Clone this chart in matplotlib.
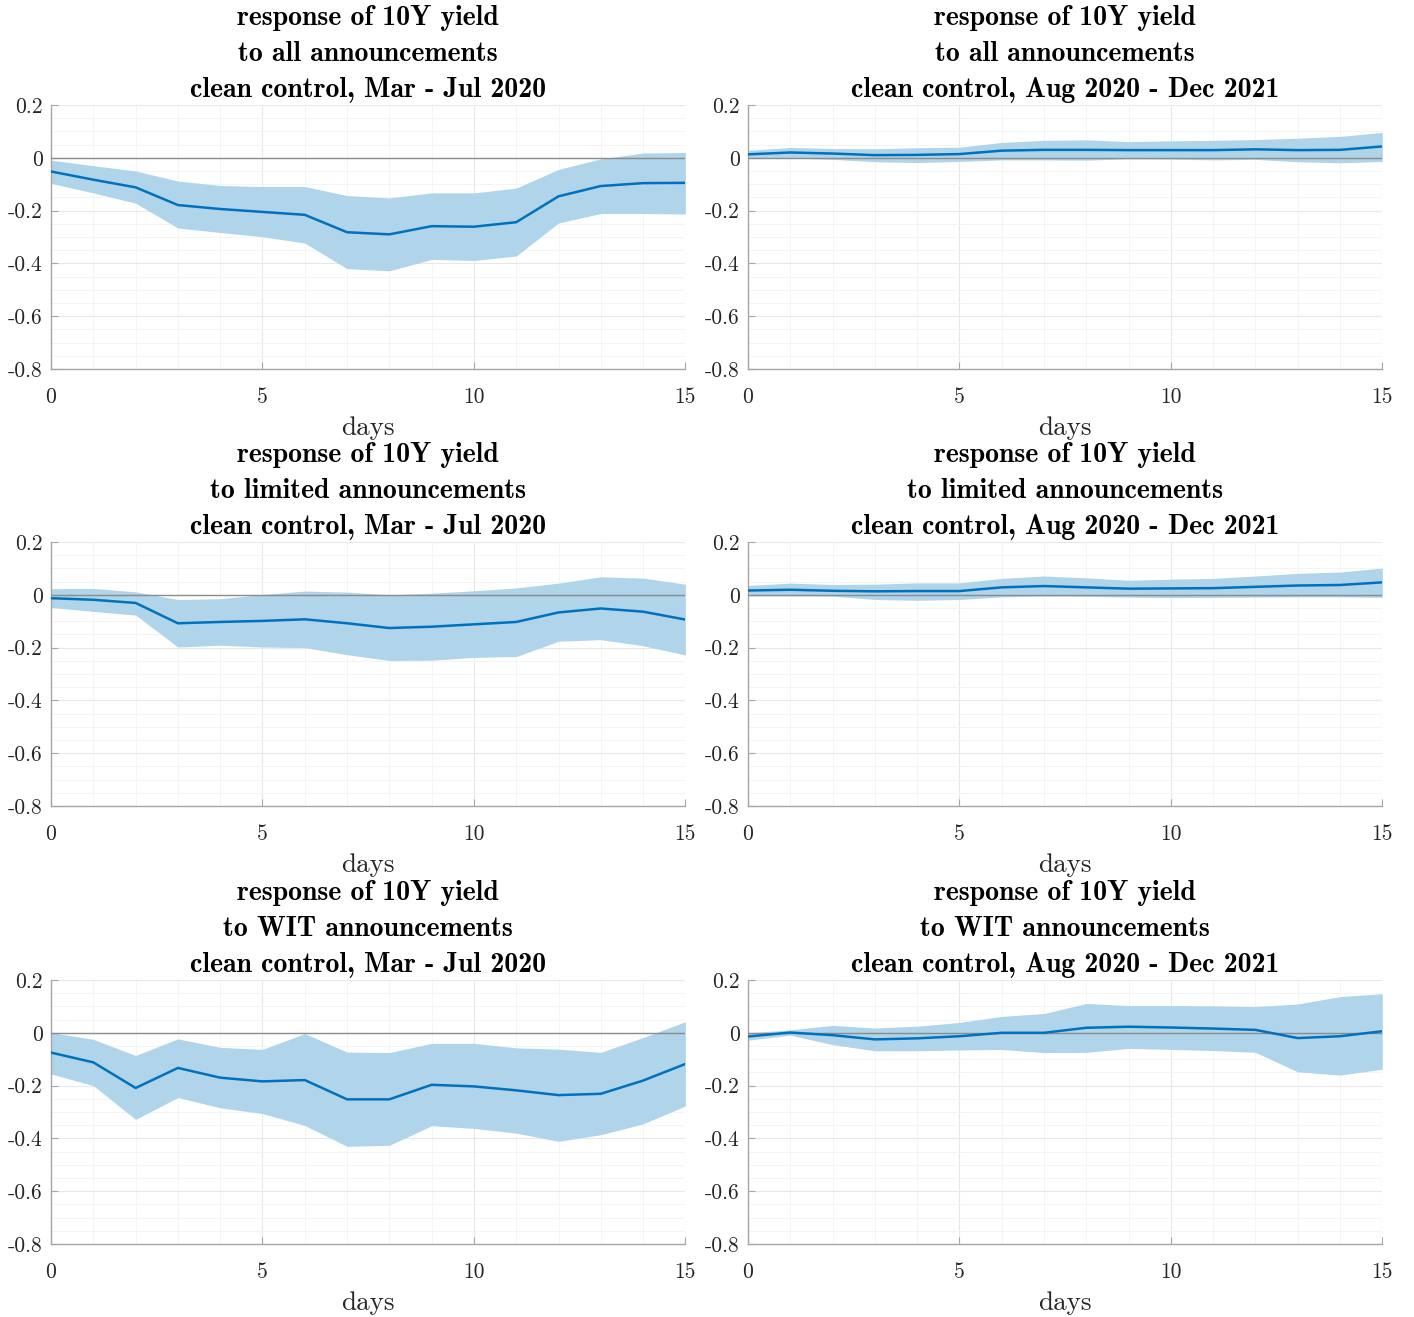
import matplotlib.pyplot as plt
import matplotlib

matplotlib.rcParams["axes.unicode_minus"] = False
matplotlib.rcParams["font.family"] = ["cmr10", "DejaVu Serif"]
matplotlib.rcParams["mathtext.fontset"] = "cm"

days = list(range(16))

# --- panel data (point estimate, upper band, lower band) ---
all_early_mean = [-0.052, -0.083, -0.112, -0.179, -0.194, -0.205, -0.216, -0.282,
                  -0.290, -0.259, -0.261, -0.244, -0.146, -0.107, -0.096, -0.095]
all_early_hi = [-0.009, -0.030, -0.050, -0.088, -0.105, -0.109, -0.109, -0.143,
                -0.152, -0.133, -0.133, -0.115, -0.044, -0.004, 0.018, 0.020]
all_early_lo = [-0.097, -0.133, -0.172, -0.266, -0.283, -0.299, -0.323, -0.420,
                -0.428, -0.385, -0.389, -0.372, -0.247, -0.211, -0.211, -0.213]

all_late_mean = [0.013, 0.020, 0.016, 0.010, 0.011, 0.014, 0.027, 0.030,
                 0.030, 0.029, 0.029, 0.029, 0.032, 0.029, 0.030, 0.043]
all_late_hi = [0.028, 0.039, 0.035, 0.034, 0.038, 0.040, 0.058, 0.066,
               0.068, 0.061, 0.064, 0.066, 0.069, 0.074, 0.081, 0.096]
all_late_lo = [-0.001, -0.001, -0.006, -0.015, -0.018, -0.014, -0.008, -0.008,
               -0.009, -0.004, -0.005, -0.008, -0.006, -0.015, -0.019, -0.014]

lim_early_mean = [-0.013, -0.019, -0.031, -0.108, -0.103, -0.099, -0.093, -0.108,
                  -0.126, -0.121, -0.112, -0.103, -0.067, -0.052, -0.064, -0.094]
lim_early_hi = [0.023, 0.024, 0.011, -0.018, -0.015, 0.001, 0.014, 0.010,
                0.000, 0.006, 0.015, 0.026, 0.044, 0.068, 0.063, 0.040]
lim_early_lo = [-0.048, -0.063, -0.077, -0.198, -0.191, -0.198, -0.200, -0.227,
                -0.249, -0.248, -0.237, -0.234, -0.176, -0.170, -0.193, -0.228]

lim_late_mean = [0.016, 0.019, 0.015, 0.013, 0.014, 0.014, 0.028, 0.033,
                 0.028, 0.023, 0.024, 0.025, 0.030, 0.035, 0.037, 0.047]
lim_late_hi = [0.035, 0.044, 0.039, 0.040, 0.045, 0.045, 0.062, 0.071,
               0.064, 0.055, 0.059, 0.062, 0.071, 0.081, 0.086, 0.101]
lim_late_lo = [-0.004, -0.004, -0.005, -0.018, -0.021, -0.018, -0.008, -0.005,
               -0.006, -0.009, -0.011, -0.010, -0.009, -0.008, -0.008, -0.010]

wit_early_mean = [-0.075, -0.112, -0.209, -0.133, -0.170, -0.184, -0.179, -0.252,
                  -0.252, -0.197, -0.203, -0.218, -0.236, -0.231, -0.181, -0.118]
wit_early_hi = [0.001, -0.025, -0.086, -0.023, -0.055, -0.063, -0.003, -0.073,
                -0.075, -0.040, -0.040, -0.057, -0.062, -0.074, -0.018, 0.042]
wit_early_lo = [-0.156, -0.200, -0.328, -0.245, -0.284, -0.306, -0.351, -0.430,
                -0.426, -0.352, -0.362, -0.380, -0.411, -0.386, -0.345, -0.277]

wit_late_mean = [-0.014, 0.001, -0.009, -0.025, -0.021, -0.013, 0.000, 0.000,
                 0.019, 0.023, 0.020, 0.016, 0.011, -0.020, -0.013, 0.006]
wit_late_hi = [0.000, 0.011, 0.028, 0.018, 0.025, 0.039, 0.062, 0.073,
               0.111, 0.103, 0.103, 0.102, 0.099, 0.109, 0.137, 0.148]
wit_late_lo = [-0.028, -0.009, -0.045, -0.068, -0.068, -0.065, -0.063, -0.075,
               -0.074, -0.059, -0.063, -0.067, -0.074, -0.148, -0.160, -0.138]

groups = ["all", "limited", "WIT"]
periods = ["Mar - Jul 2020", "Aug 2020 - Dec 2021"]

panels = [
    [(all_early_mean, all_early_hi, all_early_lo), (all_late_mean, all_late_hi, all_late_lo)],
    [(lim_early_mean, lim_early_hi, lim_early_lo), (lim_late_mean, lim_late_hi, lim_late_lo)],
    [(wit_early_mean, wit_early_hi, wit_early_lo), (wit_late_mean, wit_late_hi, wit_late_lo)],
]

fig = plt.figure(figsize=(14.14, 13.17), dpi=100)

lefts = [0.0361, 0.529]
bottoms = [0.7198, 0.388, 0.0554]
width = 0.4486
height = 0.2005

line_c = "#0072BD"
fill_c = "#b0d4ea"

for r in range(3):
    for c in range(2):
        ax = fig.add_axes([lefts[c], bottoms[r], width, height])
        mean, hi, lo = panels[r][c]
        ax.fill_between(days, lo, hi, color=fill_c, linewidth=0, zorder=2)
        ax.plot(days, mean, color=line_c, linewidth=1.8, zorder=4)
        ax.axhline(0, color="#8c8c8c", linewidth=1.0, zorder=3)

        ax.set_xlim(0, 15)
        ax.set_ylim(-0.8, 0.2)
        ax.set_xticks([0, 5, 10, 15])
        ax.set_yticks([-0.8, -0.6, -0.4, -0.2, 0, 0.2])
        ax.set_yticklabels(["-0.8", "-0.6", "-0.4", "-0.2", "0", "0.2"])
        ax.set_xticks(range(16), minor=True)
        ax.set_yticks([v / 100 for v in range(-80, 21, 5)], minor=True)
        ax.grid(which="major", color="#e8e8e8", linewidth=0.8, zorder=0)
        ax.grid(which="minor", color="#f3f3f3", linewidth=0.6, zorder=0)
        ax.set_axisbelow(True)

        for s in ["top", "right"]:
            ax.spines[s].set_visible(False)
        for s in ["left", "bottom"]:
            ax.spines[s].set_color("#a6a6a6")
            ax.spines[s].set_linewidth(1.0)
        ax.tick_params(which="major", direction="in", length=5, color="#a6a6a6",
                       labelsize=15.5, labelcolor="#262626")
        ax.tick_params(axis="x", which="major", pad=13)
        ax.tick_params(axis="y", which="major", pad=6)
        ax.tick_params(which="minor", length=0)

        ax.set_xlabel("days", fontsize=19.5, color="#262626", labelpad=7)
        ax.set_title("response of 10Y yield\nto %s announcements\nclean control, %s"
                     % (groups[r], periods[c]),
                     fontsize=20, fontfamily=["cmb10", "DejaVu Serif"],
                     linespacing=1.5, pad=6)

fig.savefig("out.png", dpi=100)
